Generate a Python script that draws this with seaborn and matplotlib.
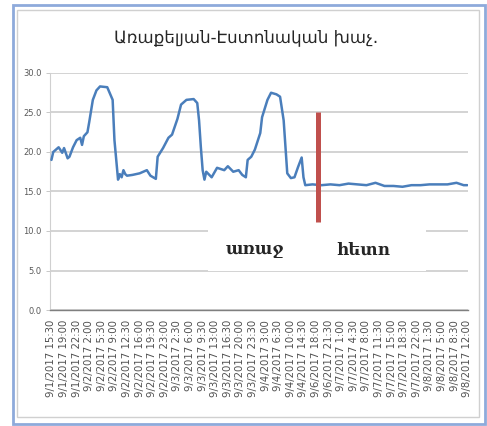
import matplotlib
matplotlib.use("Agg")
import matplotlib.pyplot as plt
import seaborn as sns
import numpy as np
import pandas as pd
from matplotlib.patches import Rectangle

# category index (30-min steps) and temperature
idx = [0, 1, 4, 6, 7, 9, 10, 12, 14, 16, 17, 18, 20, 21, 23, 25, 27, 31, 34, 35,
       37, 38, 39, 40, 41, 42, 45, 49, 53, 55, 58, 59, 62, 65, 67, 70, 72, 75, 79,
       81, 82, 83, 84, 85, 86, 89, 92, 96, 98, 101, 104, 106, 108, 109, 111, 113,
       116, 117, 120, 122, 125, 127, 129, 131, 133, 135, 137, 139, 140, 141,
       145, 150, 155, 160, 165, 170, 175, 180, 185, 190, 195, 200, 205, 210,
       215, 220, 225, 229, 231]
temp = [19.0, 20.0, 20.6, 19.9, 20.5, 19.2, 19.4, 20.6, 21.5, 21.8, 20.9, 22.0,
        22.5, 23.8, 26.6, 27.8, 28.3, 28.2, 26.6, 21.5,
        16.5, 17.2, 16.8, 17.7, 17.2, 17.0, 17.1, 17.3, 17.7, 17.0, 16.6, 19.4,
        20.5, 21.8, 22.2, 24.2, 26.0, 26.6, 26.7,
        26.2, 24.0, 20.6, 17.7, 16.5, 17.5, 16.8, 18.0, 17.7, 18.2, 17.5, 17.7,
        17.1, 16.8, 19.0, 19.4, 20.3,
        22.4, 24.4, 26.6, 27.5, 27.3, 27.0, 24.0, 17.3, 16.7, 16.8, 18.1, 19.3,
        16.8, 15.8,
        15.9, 15.8, 15.9, 15.8, 16.0, 15.9, 15.8, 16.1, 15.7, 15.7, 15.6, 15.8,
        15.8, 15.9, 15.9, 15.9, 16.1, 15.8, 15.8]

tick_labels = ["9/1/2017 15:30", "9/1/2017 19:00", "9/1/2017 22:30", "9/2/2017 2:00",
               "9/2/2017 5:30", "9/2/2017 9:00", "9/2/2017 12:30", "9/2/2017 16:00",
               "9/2/2017 19:30", "9/2/2017 23:00", "9/3/2017 2:30", "9/3/2017 6:00",
               "9/3/2017 9:30", "9/3/2017 13:00", "9/3/2017 16:30", "9/3/2017 20:00",
               "9/3/2017 23:30", "9/4/2017 3:00", "9/4/2017 6:30", "9/4/2017 10:00",
               "9/4/2017 14:30", "9/6/2017 18:00", "9/6/2017 21:30", "9/7/2017 1:00",
               "9/7/2017 4:30", "9/7/2017 8:00", "9/7/2017 11:30", "9/7/2017 15:00",
               "9/7/2017 18:30", "9/7/2017 22:00", "9/8/2017 1:30", "9/8/2017 5:00",
               "9/8/2017 8:30", "9/8/2017 12:00"]
label_step = 7
n_cat = 232

switch_idx = 148          # red marker
switch_range = (11.1, 25.0)
before_after = ["առաջ", "հետո"]
title = "Առաքելյան-Էստոնական խաչ."

df = pd.DataFrame({"idx": idx, "temp": temp})

sns.set_style("white")
fig = plt.figure(figsize=(4.87, 4.26), dpi=100)
ax = fig.add_axes([50 / 487, 1 - 310 / 426, 418 / 487, 237 / 426])

sns.lineplot(data=df, x="idx", y="temp", ax=ax, color="#4a7ebb", linewidth=1.8, zorder=3)

ax.set_xlim(-0.8, 231.4)
ax.set_ylim(0, 30)
ax.set_yticks(np.arange(0, 31, 5))
ax.set_yticklabels([f"{v:.1f}" for v in np.arange(0, 31, 5)], fontsize=6, color="#595959")
ax.yaxis.grid(True, color="#d0d0d0", linewidth=1.3)
ax.set_axisbelow(True)

ax.set_xticks(np.arange(0, len(tick_labels) * label_step, label_step))
ax.set_xticklabels(tick_labels, rotation=90, fontsize=7.3, color="#505050", va="top")
ax.set_xticks(np.arange(n_cat), minor=True)
ax.tick_params(axis="x", which="both", length=3, width=0.6, color="#7f7f7f", pad=4, direction="out")
ax.tick_params(axis="y", length=3, width=0.6, color="#bfbfbf", pad=3, left=True)
ax.set_xlabel("")
ax.set_ylabel("")

for s in ["top", "right"]:
    ax.spines[s].set_visible(False)
ax.spines["left"].set_color("#d0d0d0")
ax.spines["bottom"].set_color("#7f7f7f")
ax.spines["bottom"].set_linewidth(1.0)

# red marker
ax.vlines(switch_idx, switch_range[0], switch_range[1], color="#c0504d", linewidth=3.6, zorder=4)

# white label box
ax.add_patch(Rectangle((87, 4.95), 121, 5.85, facecolor="white", edgecolor="none", zorder=2))
ax.text(113, 7.6, before_after[0], ha="center", va="center", fontsize=12,
        fontweight="bold", family=["DejaVu Serif", "DejaVu Sans"], zorder=5)
ax.text(173, 7.6, before_after[1], ha="center", va="center", fontsize=12,
        fontweight="bold", family=["DejaVu Serif", "DejaVu Sans"], zorder=5)

fig.text(246 / 487, 1 - 37 / 426, title, ha="center", va="center", fontsize=12,
         family=["DejaVu Sans"])

# chart frames
fig.patches.append(Rectangle((17 / 487, 1 - 417 / 426), 462 / 487, 407 / 426,
                             transform=fig.transFigure, fill=False,
                             edgecolor="#d0d0d0", linewidth=1.0))
fig.patches.append(Rectangle((13 / 487, 1 - 424 / 426), 472 / 487, 419 / 426,
                             transform=fig.transFigure, fill=False,
                             edgecolor="#8eaadb", linewidth=2.0))

fig.savefig("out.png", dpi=100)
